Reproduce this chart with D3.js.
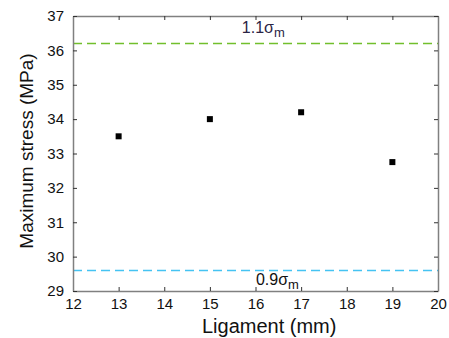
<!DOCTYPE html>
<html>
<head>
<meta charset="utf-8">
<script src="https://cdn.jsdelivr.net/npm/d3@7"></script>
<style>
  body { margin: 0; background: #fff; }
  text { font-family: Arial, "Liberation Sans", sans-serif; }
</style>
</head>
<body>
<div id="chart"></div>
<script>
// data
const ligament = [13, 15, 17, 19];
const maxStress = [33.5, 34.0, 34.2, 32.75];
const upperLimit = 36.2; // 1.1 sigma_m
const lowerLimit = 29.6; // 0.9 sigma_m
const xTicks = [12, 13, 14, 15, 16, 17, 18, 19, 20];
const yTicks = [29, 30, 31, 32, 33, 34, 35, 36, 37];

var margin = { top: 16, right: 11, bottom: 47, left: 73 },
  width = 449 - margin.left - margin.right,
  height = 338 - margin.top - margin.bottom;

var svg = d3
  .select("#chart")
  .append("svg")
  .attr("width", 449)
  .attr("height", 338)
  .append("g")
  .attr("transform", "translate(" + margin.left + "," + margin.top + ")");

var x = d3.scaleLinear().domain([12, 20]).range([0, width]);
var y = d3.scaleLinear().domain([29, 37]).range([height, 0]);

// reference lines
svg
  .append("line")
  .attr("x1", 0)
  .attr("x2", width)
  .attr("y1", Math.round(y(upperLimit)) + 0.5)
  .attr("y2", Math.round(y(upperLimit)) + 0.5)
  .attr("stroke", "#72bf2c")
  .attr("stroke-width", 1.3)
  .attr("stroke-dasharray", "9,5");
svg
  .append("line")
  .attr("x1", 0)
  .attr("x2", width)
  .attr("y1", Math.round(y(lowerLimit)) + 0.5)
  .attr("y2", Math.round(y(lowerLimit)) + 0.5)
  .attr("stroke", "#45c3f2")
  .attr("stroke-width", 1.3)
  .attr("stroke-dasharray", "9,5");

// axes, ticks pointing inward on all four sides
const tickStyle = (g) => {
  g.select(".domain").attr("stroke", "#808080").attr("stroke-width", 1.5);
  g.selectAll(".tick line").attr("stroke", "#333");
  g.selectAll(".tick text")
    .attr("font-size", 15)
    .attr("fill", "#111");
};
svg
  .append("g")
  .attr("transform", "translate(0," + height + ")")
  .call(d3.axisBottom(x).tickValues(xTicks).tickSizeInner(-4).tickSizeOuter(0).tickPadding(7))
  .call(tickStyle);
svg
  .append("g")
  .call(d3.axisTop(x).tickValues(xTicks).tickSizeInner(-4).tickSizeOuter(0).tickFormat(""))
  .call(tickStyle);
svg
  .append("g")
  .call(d3.axisLeft(y).tickValues(yTicks).tickSizeInner(-4).tickSizeOuter(0).tickPadding(9))
  .call(tickStyle);
svg
  .append("g")
  .attr("transform", "translate(" + width + ",0)")
  .call(d3.axisRight(y).tickValues(yTicks).tickSizeInner(-4).tickSizeOuter(0).tickFormat(""))
  .call(tickStyle);

// points
svg
  .selectAll(".dot")
  .data(ligament)
  .enter()
  .append("rect")
  .attr("class", "dot")
  .attr("x", (d) => x(d) - 3)
  .attr("y", (d, i) => y(maxStress[i]) - 3)
  .attr("width", 6)
  .attr("height", 6)
  .attr("fill", "#000");

// annotations
var up = svg
  .append("text")
  .attr("x", x(15.7))
  .attr("y", y(upperLimit) - 11)
  .attr("font-family", "'Liberation Serif', 'DejaVu Serif', serif")
  .attr("font-size", 16)
  .attr("fill", "#2b2445");
up.append("tspan").text("1.1σ");
up.append("tspan").attr("dy", 4).attr("font-size", 13).text("m");

var lo = svg
  .append("text")
  .attr("x", x(16.01))
  .attr("y", y(lowerLimit) + 15)
  .attr("font-size", 16)
  .attr("fill", "#111");
lo.append("tspan").text("0.9σ");
lo.append("tspan").attr("dy", 4).attr("font-size", 13).text("m");

// axis titles
svg
  .append("text")
  .attr("text-anchor", "middle")
  .attr("x", x(16.3))
  .attr("y", height + 42)
  .attr("font-size", 20)
  .attr("fill", "#111")
  .text("Ligament (mm)");
svg
  .append("text")
  .attr("text-anchor", "middle")
  .attr("transform", "rotate(-90)")
  .attr("x", -(151 - margin.top))
  .attr("y", -40)
  .attr("font-size", 19)
  .attr("fill", "#111")
  .text("Maximum stress (MPa)");
</script>
</body>
</html>
